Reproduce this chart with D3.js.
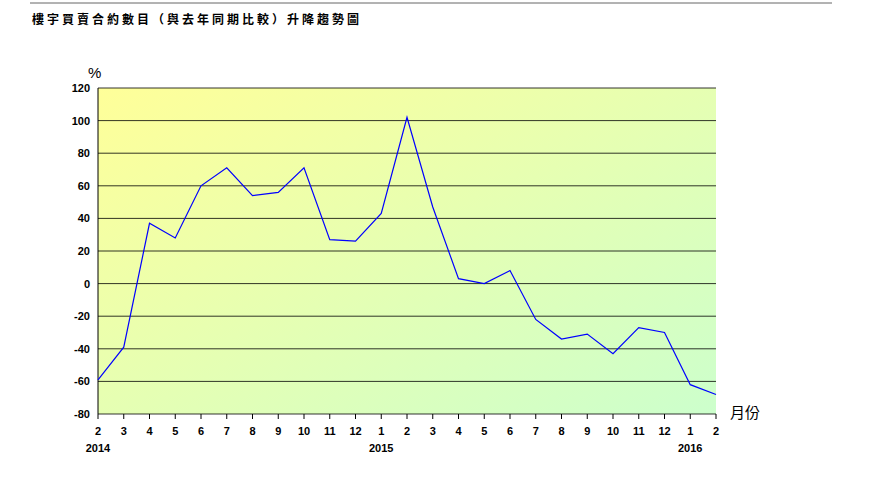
<!DOCTYPE html>
<html><head><meta charset="utf-8">
<script src="https://cdn.jsdelivr.net/npm/d3@7"></script>
<style>body{margin:0;background:#fff;font-family:"Liberation Sans",Arial,sans-serif}</style>
</head><body>
<script>
// month labels along the x axis
var months = ["2","3","4","5","6","7","8","9","10","11","12","1","2","3","4","5","6","7","8","9","10","11","12","1","2"];
var values = [-59,-39,37,28,60,71,54,56,71,27,26,43,102,47,3,0,8,-22,-34,-31,-43,-27,-30,-62,-68];
var years = [{i:0,t:"2014"},{i:11,t:"2015"},{i:23,t:"2016"}];
var yTicks = [-80,-60,-40,-20,0,20,40,60,80,100,120];

var svg = d3.select("body").append("svg").attr("width",870).attr("height",485);
var L=98, R=716, T=88, B=414;
var x = d3.scaleLinear().domain([0,months.length-1]).range([L,R]);
var y = d3.scaleLinear().domain([-80,120]).range([B,T]);

svg.append("line").attr("x1",30).attr("x2",832).attr("y1",3).attr("y2",3).attr("stroke","#666");
svg.append("text").attr("x",32).attr("y",24).attr("font-size",12).attr("font-weight","bold")
  .attr("letter-spacing",3).attr("font-family","Noto Sans CJK TC")
  .text("樓宇買賣合約數目（與去年同期比較）升降趨勢圖");

var grad = svg.append("defs").append("linearGradient").attr("id","bg")
  .attr("x1","0").attr("y1","0").attr("x2","1").attr("y2","1");
grad.append("stop").attr("offset","0").attr("stop-color","#ffff99");
grad.append("stop").attr("offset","1").attr("stop-color","#ccffcc");
svg.append("rect").attr("x",L).attr("y",T).attr("width",R-L).attr("height",B-T).attr("fill","url(#bg)");

svg.selectAll(".grid").data(yTicks).enter().append("line")
  .attr("x1",L).attr("x2",R).attr("y1",d=>y(d)).attr("y2",d=>y(d)).attr("stroke","#000").attr("stroke-width",0.8);

svg.selectAll(".yl").data(yTicks).enter().append("text")
  .attr("x",L-8).attr("y",d=>y(d)+4).attr("text-anchor","end").attr("font-size",11).attr("font-weight","bold").text(d=>d);
svg.append("text").attr("x",88).attr("y",78).attr("font-size",15).text("%");

svg.append("line").attr("x1",L).attr("x2",L).attr("y1",T).attr("y2",B).attr("stroke","#000");
svg.selectAll(".xt").data(months).enter().append("line")
  .attr("x1",(d,i)=>x(i)).attr("x2",(d,i)=>x(i)).attr("y1",B).attr("y2",B+5).attr("stroke","#000");
svg.selectAll(".xl").data(months).enter().append("text")
  .attr("x",(d,i)=>x(i)).attr("y",B+21).attr("text-anchor","middle").attr("font-size",11).attr("font-weight","bold").text(d=>d);
svg.selectAll(".yr").data(years).enter().append("text")
  .attr("x",d=>x(d.i)).attr("y",B+38).attr("text-anchor","middle").attr("font-size",11).attr("font-weight","bold").text(d=>d.t);
svg.append("text").attr("x",730).attr("y",418).attr("font-size",15).attr("font-family","Noto Sans CJK TC").text("月份");

svg.append("path").datum(values)
  .attr("d",d3.line().x((d,i)=>x(i)).y(d=>y(d)))
  .attr("fill","none").attr("stroke","#0000ff").attr("stroke-width",1.2);
</script>
</body></html>
